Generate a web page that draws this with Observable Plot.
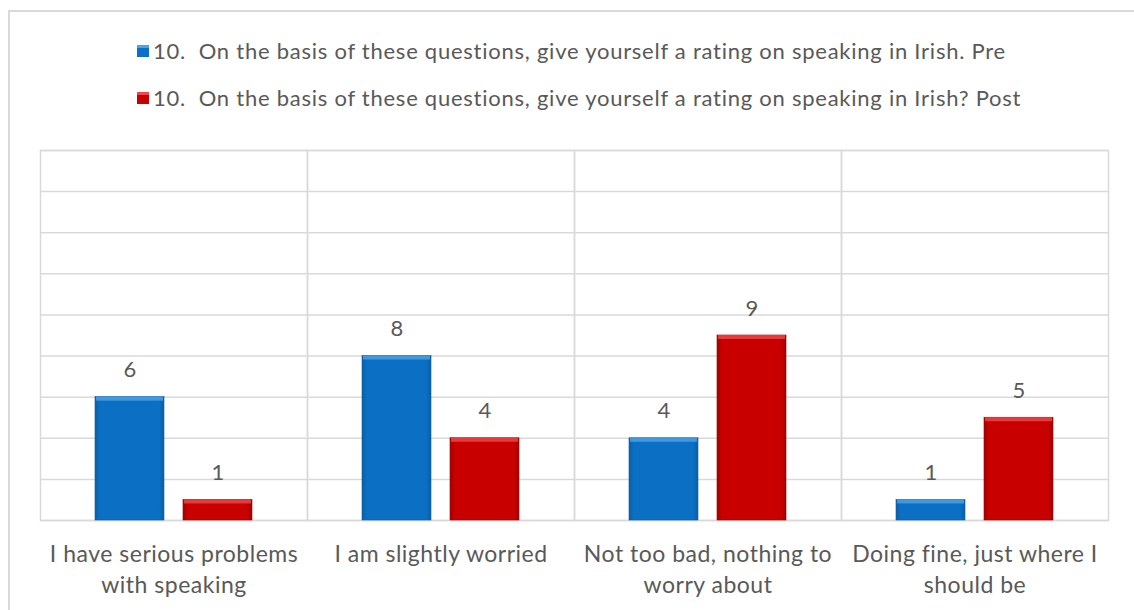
<!DOCTYPE html>
<html>
<head>
<meta charset="utf-8">
<script src="https://cdn.jsdelivr.net/npm/d3@7"></script>
<script src="https://cdn.jsdelivr.net/npm/@observablehq/plot@0.6"></script>
<style>
  html, body { margin: 0; padding: 0; background: #fff; }
  #wrap { position: relative; width: 1134px; height: 610px; overflow: hidden; font-family: Lato, "Open Sans", sans-serif; color: #595959; }
  #border { position: absolute; left: 8px; top: 10px; width: 1140px; height: 620px; border: 2px solid #d9d9d9; box-sizing: border-box; }
  #legend { position: absolute; left: 0; top: 0; width: 1134px; }
  .lg { position: absolute; left: 137px; display: flex; align-items: center; font-size: 22px; letter-spacing: 0.75px; white-space: pre; line-height: 24px; }
  .sw { width: 12px; height: 12px; margin-right: 4px; box-sizing: border-box; }
  #chart { position: absolute; left: 0; top: 0; }
  #chart svg text { letter-spacing: 0.5px; }
</style>
</head>
<body>
<div id="wrap">
  <div id="border"></div>
  <div id="chart"></div>
  <div id="legend"></div>
</div>
<script>
const categories = [
  "I have serious problems with speaking",
  "I am slightly worried",
  "Not too bad, nothing to worry about",
  "Doing fine, just where I should be"
];
const tickLabels = [
  "I have serious problems\nwith speaking",
  "I am slightly worried",
  "Not too bad, nothing to\nworry about",
  "Doing fine, just where I\nshould be"
];
const seriesNames = [
  "10.  On the basis of these questions, give yourself a rating on speaking in Irish. Pre",
  "10.  On the basis of these questions, give yourself a rating on speaking in Irish? Post"
];
const seriesKeys = ["Pre", "Post"];
const preValues = [6, 8, 4, 1];
const postValues = [1, 4, 9, 5];
const gridValues = [0, 2, 4, 6, 8, 10, 12, 14, 16, 18];

const rows = [];
categories.forEach((c, i) => {
  rows.push({category: c, series: "Pre", value: preValues[i]});
  rows.push({category: c, series: "Post", value: postValues[i]});
});

const fills = {Pre: "url(#gradPre)", Post: "url(#gradPost)"};
const tops = {Pre: "#4ea2e6", Post: "#f04848"};

const barMarks = seriesKeys.flatMap(s => {
  const d = rows.filter(r => r.series === s);
  return [
    Plot.barY(d, {fx: "category", x: "series", y: "value", fill: fills[s],
      stroke: s === "Pre" ? "#0a5ea6" : "#a00000", strokeWidth: 0.6}),
    Plot.barY(d, {fx: "category", x: "series", y1: "value", y2: "value",
      insetBottom: -4, insetLeft: 1, insetRight: 1, fill: tops[s], fillOpacity: 0.8})
  ];
});

const chart = Plot.plot({
  width: 1134,
  height: 610,
  marginLeft: 40,
  marginRight: 26,
  marginTop: 150,
  marginBottom: 90,
  style: {fontFamily: "Lato, 'Open Sans', sans-serif", color: "#595959", background: "transparent"},
  fx: {domain: categories, padding: 0, label: null},
  x: {domain: seriesKeys, paddingInner: 0.2135, paddingOuter: 0.607, axis: null},
  y: {domain: [0, 18], axis: null},
  marks: [
    Plot.ruleY(gridValues, {stroke: "#d9d9d9", strokeWidth: 1.5}),
    Plot.frame({stroke: "#d9d9d9", strokeWidth: 1.5}),
    ...barMarks,
    Plot.text(rows, {fx: "category", x: "series", y: "value", text: d => String(d.value),
      lineAnchor: "bottom", dy: -20, fontSize: 22, fill: "#595959"}),
    Plot.axisFx({anchor: "bottom", tickSize: 0, tickPadding: 19, fontSize: 23, lineHeight: 1.35,
      tickFormat: d => tickLabels[categories.indexOf(d)], label: null, fill: "#595959"})
  ]
});

// gradient defs for bevelled bar look
const svg = d3.select(chart);
const defs = svg.insert("defs", ":first-child");
function grad(id, edge, mid) {
  const g = defs.append("linearGradient").attr("id", id).attr("x1", "0").attr("x2", "1").attr("y1", "0").attr("y2", "0");
  g.append("stop").attr("offset", "0%").attr("stop-color", edge);
  g.append("stop").attr("offset", "7%").attr("stop-color", mid);
  g.append("stop").attr("offset", "93%").attr("stop-color", mid);
  g.append("stop").attr("offset", "100%").attr("stop-color", edge);
}
grad("gradPre", "#0a5ea6", "#0b70c3");
grad("gradPost", "#a00000", "#c80000");

document.getElementById("chart").appendChild(chart);

const legend = document.getElementById("legend");
const swatchColors = ["#0b70c3", "#c80000"];
const legendTops = [51, 98];
seriesNames.forEach((name, i) => {
  const row = document.createElement("div");
  row.className = "lg";
  row.style.top = (legendTops[i] - 12) + "px";
  const sw = document.createElement("div");
  sw.className = "sw";
  sw.style.background = swatchColors[i];
  sw.style.borderTop = "3px solid " + tops[seriesKeys[i]];
  const t = document.createElement("span");
  t.textContent = name;
  row.appendChild(sw);
  row.appendChild(t);
  legend.appendChild(row);
});
</script>
</body>
</html>
